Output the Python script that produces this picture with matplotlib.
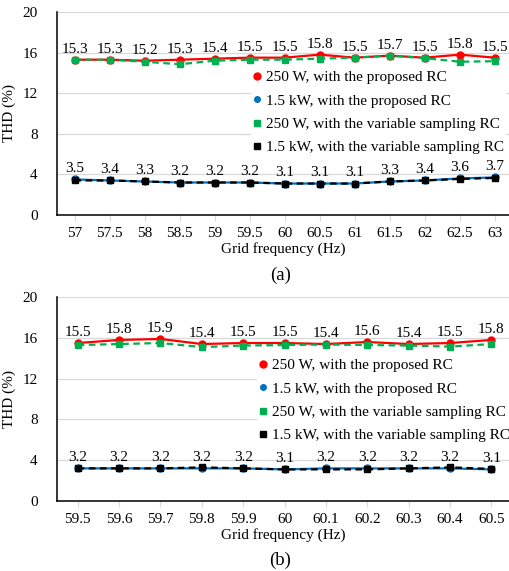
import numpy as np
import matplotlib.pyplot as plt
from matplotlib.lines import Line2D

plt.rcParams['font.family'] = ['Liberation Serif', 'DejaVu Serif']

# Daten (a)
freq_a = ['57', '57.5', '58', '58.5', '59', '59.5', '60', '60.5', '61', '61.5', '62', '62.5', '63']
red_a = [15.3, 15.3, 15.2, 15.3, 15.4, 15.5, 15.5, 15.8, 15.5, 15.7, 15.5, 15.8, 15.5]
blue_a = [3.5, 3.4, 3.3, 3.2, 3.2, 3.2, 3.1, 3.1, 3.1, 3.3, 3.4, 3.6, 3.7]
green_a = [15.3, 15.3, 15.1, 14.85, 15.2, 15.3, 15.3, 15.4, 15.5, 15.7, 15.45, 15.1, 15.15]
black_a = [3.4, 3.4, 3.3, 3.2, 3.2, 3.2, 3.1, 3.1, 3.1, 3.3, 3.4, 3.55, 3.65]

# Daten (b)
freq_b = ['59.5', '59.6', '59.7', '59.8', '59.9', '60', '60.1', '60.2', '60.3', '60.4', '60.5']
red_b = [15.5, 15.8, 15.9, 15.4, 15.5, 15.5, 15.4, 15.6, 15.4, 15.5, 15.8]
blue_b = [3.2, 3.2, 3.2, 3.2, 3.2, 3.1, 3.2, 3.2, 3.2, 3.2, 3.1]
green_b = [15.3, 15.4, 15.5, 15.1, 15.25, 15.3, 15.35, 15.3, 15.25, 15.15, 15.4]
black_b = [3.2, 3.2, 3.2, 3.3, 3.2, 3.1, 3.1, 3.1, 3.2, 3.3, 3.15]

labels = ['250 W, with the proposed RC', '1.5 kW, with the proposed RC',
          '250 W, with the variable sampling RC', '1.5 kW, with the variable sampling RC']

RED, BLUE, GREEN = '#FF0000', '#0070C0', '#00B050'
FS = 11

fig = plt.figure(figsize=(5.09, 5.71), dpi=100)


def panel(rect, cats, red, blue, green, black, tag, tag_y, leg_anchor):
    ax = fig.add_axes(rect)
    x = np.arange(len(cats))
    ax.plot(x, red, color=RED, lw=1.6, marker='o', ms=5, zorder=3)
    ax.plot(x, blue, color=BLUE, lw=1.6, marker='o', ms=5, zorder=3)
    ax.plot(x, green, color=GREEN, lw=1.6, ls=(0, (3, 2)), marker='s', ms=4.5, zorder=4)
    ax.plot(x, black, color='black', lw=1.6, ls=(0, (3, 2)), marker='s', ms=4.5, zorder=4)
    for xi, v in zip(x, red):
        ax.annotate(f'{v:.1f}', (xi, v), xytext=(0, 7.5), textcoords='offset points',
                    ha='center', va='center', fontsize=FS)
    for xi, v in zip(x, blue):
        ax.annotate(f'{v:.1f}', (xi, v), xytext=(0, 8), textcoords='offset points',
                    ha='center', va='center', fontsize=FS)

    ax.set_ylim(0, 20)
    ax.set_yticks([0, 4, 8, 12, 16, 20])
    n = len(cats)
    ax.set_xlim(-0.5, n - 0.5 - 0.09 * (n / 13))
    ax.set_xticks(x)
    ax.set_xticklabels(cats)
    ax.grid(axis='y', color='#D9D9D9', lw=0.9)
    ax.set_axisbelow(True)
    ax.spines['top'].set_visible(False)
    ax.spines['right'].set_visible(False)
    ax.spines['left'].set_linewidth(1.1)
    ax.spines['bottom'].set_linewidth(1.1)
    ax.tick_params(axis='y', length=0, pad=14, labelsize=FS)
    ax.tick_params(axis='x', length=4, color='#D9D9D9', pad=5, labelsize=FS)
    ax.set_xlabel('Grid frequency (Hz)', fontsize=FS, labelpad=1)
    ax.set_ylabel('THD (%)', fontsize=FS)
    ax.yaxis.set_label_coords(-0.091, 0.5)
    fig.text(0.551, tag_y, tag, ha='center', va='center', fontsize=13.5)

    handles = [
        Line2D([], [], ls='none', marker='o', ms=5, color=RED),
        Line2D([], [], ls='none', marker='o', ms=4, color=BLUE),
        Line2D([], [], ls='none', marker='s', ms=4.5, color=GREEN),
        Line2D([], [], ls='none', marker='s', ms=4.5, color='black'),
    ]
    leg = ax.legend(handles, labels, loc='upper left', bbox_to_anchor=leg_anchor,
                    bbox_transform=fig.transFigure, fontsize=FS, frameon=True,
                    facecolor='white', edgecolor='none', framealpha=1, fancybox=False,
                    handlelength=0.6, handletextpad=0.3, labelspacing=0.63,
                    borderpad=0.1, borderaxespad=0)
    leg.set_zorder(5)
    return ax


panel([0.112, 0.6235, 0.888, 0.3555], freq_a, red_a, blue_a, green_a, black_a, '(a)',
      1 - 275 / 571, (251 / 509, 1 - 69 / 571))
panel([0.112, 0.1226, 0.888, 0.357], freq_b, red_b, blue_b, green_b, black_b, '(b)',
      1 - 560 / 571, (257 / 509, 1 - 357 / 571))

fig.savefig('out.png', dpi=100)
